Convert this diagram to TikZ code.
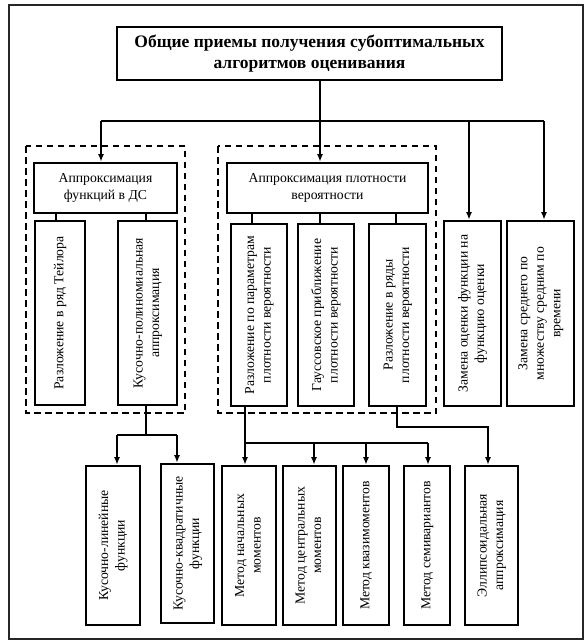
\documentclass[tikz,border=0pt]{standalone}
\usepackage{fontspec}
\usepackage{graphicx}
\setmainfont{Liberation Serif}
\usetikzlibrary{arrows.meta}
\newcommand{\mybox}[6]{\node[box, minimum width={(#4-#2)*1pt}, minimum height={(#5-#3)*1pt}] (#1) at ({(#2+#4)/2},{(#3+#5)/2}) {#6};}
\newcommand{\vt}[1]{\rotatebox{90}{\begin{tabular}{@{}c@{}}#1\end{tabular}}}
\begin{document}
\begin{tikzpicture}[x=1pt,y=-1pt,
  box/.style={draw, line width=2.6pt, rectangle, inner sep=0pt, align=center,
    font=\fontsize{13.7}{16.5}\selectfont},
  conn/.style={line width=1.6pt},
  arr/.style={line width=1.6pt, -{Latex[length=7.5pt,width=6pt]}},
  grp/.style={line width=1.7pt, dash pattern=on 6.5pt off 4.5pt}]
\useasboundingbox (0,0) rectangle (588,642);
\draw[line width=1.4pt, black!85] (9,5) rectangle (583,639);

% title
\node[box, minimum width=385pt, minimum height=53pt, font=\fontsize{17.5}{20.5}\selectfont\bfseries]
  (T) at (309.5,53.5) {Общие приемы получения субоптимальных\\алгоритмов оценивания};

% groups
\draw[grp] (26,146) rectangle (185,413);
\draw[grp] (218,146) rectangle (436,413);

% headers
\mybox{LH}{34}{163}{177}{213}{Аппроксимация\\функций в ДС}
\mybox{MH}{227}{163}{428}{213}{Аппроксимация плотности\\вероятности}

% left children
\mybox{L1}{35}{221}{85}{405}{\vt{Разложение в ряд Тейлора}}
\mybox{L2}{118}{221}{177}{405}{\vt{Кусочно-полиномиальная\\аппроксимация}}

% middle children
\mybox{M1}{231}{224}{287}{406}{\vt{Разложение по параметрам\\плотности вероятности}}
\mybox{M2}{298}{224}{354}{406}{\vt{Гауссовское приближение\\плотности вероятности}}
\mybox{M3}{369}{224}{426}{406}{\vt{Разложение в ряды\\плотности вероятности}}

% right boxes
\mybox{R1}{444}{221}{501}{406}{\vt{Замена оценки функции на\\функцию оценки}}
\mybox{R2}{507}{221}{574}{406}{\vt{Замена среднего по\\множеству средним по\\времени}}

% bottom boxes
\mybox{B1}{86}{466}{140}{625}{\vt{Кусочно-линейные\\функции}}
\mybox{B2}{161}{464}{214}{623}{\vt{Кусочно-квадратичные\\функции}}
\mybox{B3}{222}{466}{276}{625}{\vt{Метод начальных\\моментов}}
\mybox{B4}{283}{466}{336}{625}{\vt{Метод центральных\\моментов}}
\mybox{B5}{343}{466}{389}{625}{\vt{Метод квазимоментов}}
\mybox{B6}{404}{466}{450}{625}{\vt{Метод семивариантов}}
\mybox{B7}{465}{466}{518}{625}{\vt{Эллипсоидальная\\аппроксимация}}

% top bus
\coordinate (J0) at (320,121);
\coordinate (JL) at (101,121);
\coordinate (J1) at (469,121);
\coordinate (JR) at (544,121);
\draw[conn] (J0 |- T.south) -- (J0);
\draw[conn] (JL) -- (JR);
\draw[arr] (JL) -- (JL |- LH.north);
\draw[arr] (J0) -- (J0 |- MH.north);
\draw[arr] (J1) -- (J1 |- R1.north);
\draw[arr] (JR) -- (JR |- R2.north);

% stubs
\coordinate (s1) at (56,0);
\coordinate (s2) at (146,0);
\coordinate (s3) at (252,0);
\coordinate (s4) at (320,0);
\coordinate (s5) at (396,0);
\draw[conn] (s1 |- LH.south) -- (s1 |- L1.north);
\draw[conn] (s2 |- LH.south) -- (s2 |- L2.north);
\draw[conn] (s3 |- MH.south) -- (s3 |- M1.north);
\draw[conn] (s4 |- MH.south) -- (s4 |- M2.north);
\draw[conn] (s5 |- MH.south) -- (s5 |- M3.north);

% left lower branch
\coordinate (k1) at (146,435);
\coordinate (k1a) at (117,435);
\coordinate (k1b) at (177,435);
\draw[conn] (k1 |- L2.south) -- (k1);
\draw[conn] (k1a) -- (k1b);
\draw[arr] (k1a) -- (k1a |- B1.north);
\draw[arr] (k1b) -- (k1b |- B2.north);

% middle lower branch
\coordinate (k2) at (245,443);
\coordinate (k2a) at (314,443);
\coordinate (k2b) at (366,443);
\coordinate (k2c) at (428,443);
\draw[arr] (k2 |- M1.south) -- (k2 |- B3.north);
\draw[conn] (k2) -- (k2c);
\draw[arr] (k2a) -- (k2a |- B4.north);
\draw[arr] (k2b) -- (k2b |- B5.north);
\draw[arr] (k2c) -- (k2c |- B6.north);

% ellipsoidal branch
\coordinate (k3) at (397,427);
\coordinate (k3b) at (488,427);
\draw[arr] (k3 |- M3.south) -- (k3) -- (k3b) -- (k3b |- B7.north);
\end{tikzpicture}
\end{document}
